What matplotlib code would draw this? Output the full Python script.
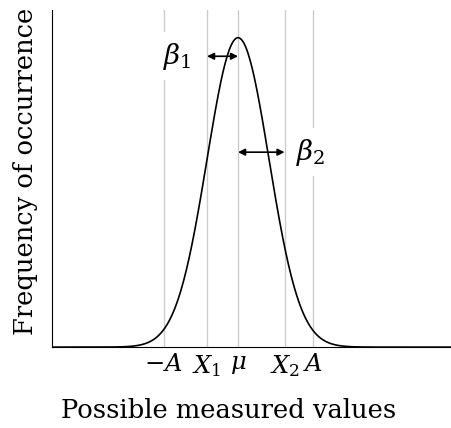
import numpy as np
import matplotlib.pyplot as plt

plt.rcParams['font.family'] = 'DejaVu Serif'
plt.rcParams['mathtext.fontset'] = 'dejavuserif'

# positions in units of sigma, mu = 0
mu = 0.0
sigma = 1.0
marks = [-2.4, -1.0, 0.0, 1.5, 2.42]
mark_labels = [r'$-A$', r'$X_1$', r'$\mu$', r'$X_2$', r'$A$']

x = np.linspace(-6.0, 6.9, 600)
y = np.exp(-0.5 * ((x - mu) / sigma) ** 2)

fig = plt.figure(figsize=(4.52, 4.28), dpi=100)
ax = fig.add_axes([0.115, 0.189, 0.885, 0.788])

for m in marks:
    ax.axvline(m, color='#cccccc', lw=1, zorder=0)

ax.plot(x, y, color='k', lw=1.2, zorder=2)

# widths beta1 (X1 -> mu) and beta2 (mu -> X2)
ax.annotate('', xy=(marks[1], 0.94), xytext=(mu, 0.94),
            arrowprops=dict(arrowstyle='<|-|>', color='k', lw=1.2,
                            mutation_scale=10, shrinkA=0, shrinkB=0))
ax.annotate('', xy=(mu, 0.63), xytext=(marks[3], 0.63),
            arrowprops=dict(arrowstyle='<|-|>', color='k', lw=1.2,
                            mutation_scale=10, shrinkA=0, shrinkB=0))
ax.text(-1.95, 0.94, r'$\beta_1$', fontsize=20, ha='center', va='center',
        bbox=dict(facecolor='white', edgecolor='none', pad=6), zorder=3)
ax.text(2.33, 0.63, r'$\beta_2$', fontsize=20, ha='center', va='center',
        bbox=dict(facecolor='white', edgecolor='none', pad=6), zorder=3)

ax.set_xlim(-6.0, 6.9)
ax.set_ylim(0, 1.09)
ax.set_xticks(marks)
ax.set_xticklabels(mark_labels, fontsize=17.5)
ax.set_yticks([])
ax.tick_params(axis='x', length=0, pad=4)
ax.spines['top'].set_visible(False)
ax.spines['right'].set_visible(False)

ax.set_xlabel('Possible measured values', fontsize=18.5)
ax.set_ylabel('Frequency of occurrence', fontsize=18.5)
ax.xaxis.set_label_coords(0.4425, -0.15)
ax.yaxis.set_label_coords(-0.035, 0.52)

fig.savefig('out.png', dpi=100)
